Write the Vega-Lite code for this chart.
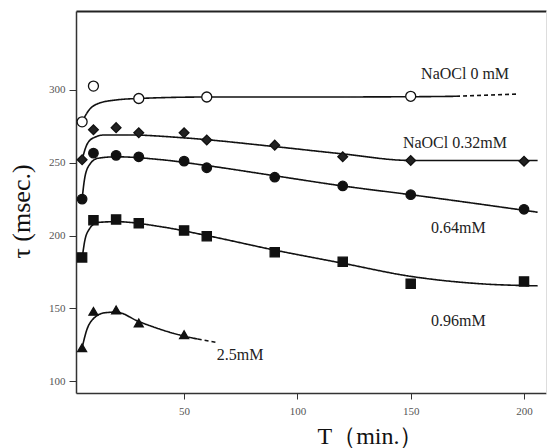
{
  "$schema": "https://vega.github.io/schema/vega-lite/v6.json",
  "width": 470,
  "height": 382,
  "autosize": {"type": "none"},
  "padding": {"left": 76, "top": 11, "right": 3, "bottom": 55},
  "background": "white",
  "config": {
    "view": {"stroke": null},
    "font": "Liberation Serif",
    "axis": {"grid": false, "labelFont": "Liberation Serif", "titleFont": "Liberation Serif"}
  },
  "datasets": {
    "curves": [
      {"series": "0 mM", "part": "fit", "T": 5, "tau": 278},
      {"series": "0 mM", "part": "fit", "T": 8, "tau": 286},
      {"series": "0 mM", "part": "fit", "T": 12, "tau": 290.5},
      {"series": "0 mM", "part": "fit", "T": 20, "tau": 293},
      {"series": "0 mM", "part": "fit", "T": 30, "tau": 294},
      {"series": "0 mM", "part": "fit", "T": 60, "tau": 295},
      {"series": "0 mM", "part": "fit", "T": 100, "tau": 295},
      {"series": "0 mM", "part": "fit", "T": 150, "tau": 295.2},
      {"series": "0 mM", "part": "fit", "T": 170, "tau": 295.5},
      {"series": "0 mM", "part": "extrap", "T": 170, "tau": 295.5},
      {"series": "0 mM", "part": "extrap", "T": 197, "tau": 297},
      {"series": "0.32 mM", "part": "fit", "T": 5, "tau": 252},
      {"series": "0.32 mM", "part": "fit", "T": 7, "tau": 262},
      {"series": "0.32 mM", "part": "fit", "T": 10, "tau": 267},
      {"series": "0.32 mM", "part": "fit", "T": 15, "tau": 269},
      {"series": "0.32 mM", "part": "fit", "T": 25, "tau": 269},
      {"series": "0.32 mM", "part": "fit", "T": 50, "tau": 267},
      {"series": "0.32 mM", "part": "fit", "T": 90, "tau": 261},
      {"series": "0.32 mM", "part": "fit", "T": 120, "tau": 256},
      {"series": "0.32 mM", "part": "fit", "T": 150, "tau": 251.5},
      {"series": "0.32 mM", "part": "fit", "T": 206, "tau": 251.5},
      {"series": "0.64 mM", "part": "fit", "T": 5, "tau": 225},
      {"series": "0.64 mM", "part": "fit", "T": 6, "tau": 238},
      {"series": "0.64 mM", "part": "fit", "T": 8, "tau": 248},
      {"series": "0.64 mM", "part": "fit", "T": 12, "tau": 253},
      {"series": "0.64 mM", "part": "fit", "T": 20, "tau": 254},
      {"series": "0.64 mM", "part": "fit", "T": 40, "tau": 252},
      {"series": "0.64 mM", "part": "fit", "T": 60, "tau": 248},
      {"series": "0.64 mM", "part": "fit", "T": 90, "tau": 241},
      {"series": "0.64 mM", "part": "fit", "T": 120, "tau": 234},
      {"series": "0.64 mM", "part": "fit", "T": 150, "tau": 228},
      {"series": "0.64 mM", "part": "fit", "T": 206, "tau": 216},
      {"series": "0.96 mM", "part": "fit", "T": 5, "tau": 184},
      {"series": "0.96 mM", "part": "fit", "T": 6, "tau": 195},
      {"series": "0.96 mM", "part": "fit", "T": 8, "tau": 204},
      {"series": "0.96 mM", "part": "fit", "T": 12, "tau": 209},
      {"series": "0.96 mM", "part": "fit", "T": 20, "tau": 209.5},
      {"series": "0.96 mM", "part": "fit", "T": 40, "tau": 206},
      {"series": "0.96 mM", "part": "fit", "T": 60, "tau": 200},
      {"series": "0.96 mM", "part": "fit", "T": 90, "tau": 190},
      {"series": "0.96 mM", "part": "fit", "T": 120, "tau": 181},
      {"series": "0.96 mM", "part": "fit", "T": 150, "tau": 172},
      {"series": "0.96 mM", "part": "fit", "T": 180, "tau": 167},
      {"series": "0.96 mM", "part": "fit", "T": 206, "tau": 165.5},
      {"series": "2.5 mM", "part": "fit", "T": 5, "tau": 123},
      {"series": "2.5 mM", "part": "fit", "T": 7, "tau": 135},
      {"series": "2.5 mM", "part": "fit", "T": 10, "tau": 143},
      {"series": "2.5 mM", "part": "fit", "T": 15, "tau": 147},
      {"series": "2.5 mM", "part": "fit", "T": 20, "tau": 147.5},
      {"series": "2.5 mM", "part": "fit", "T": 30, "tau": 141},
      {"series": "2.5 mM", "part": "fit", "T": 50, "tau": 131},
      {"series": "2.5 mM", "part": "fit", "T": 56, "tau": 129},
      {"series": "2.5 mM", "part": "extrap", "T": 56, "tau": 129},
      {"series": "2.5 mM", "part": "extrap", "T": 65, "tau": 126.5}
    ],
    "points": [
      {"series": "0 mM", "T": 5, "tau": 278},
      {"series": "0 mM", "T": 10, "tau": 302.5},
      {"series": "0 mM", "T": 30, "tau": 294},
      {"series": "0 mM", "T": 60, "tau": 295},
      {"series": "0 mM", "T": 150, "tau": 295.5},
      {"series": "0.32 mM", "T": 5, "tau": 252},
      {"series": "0.32 mM", "T": 10, "tau": 272.5},
      {"series": "0.32 mM", "T": 20, "tau": 274},
      {"series": "0.32 mM", "T": 30, "tau": 270.5},
      {"series": "0.32 mM", "T": 50, "tau": 270.5},
      {"series": "0.32 mM", "T": 60, "tau": 265.5},
      {"series": "0.32 mM", "T": 90, "tau": 262},
      {"series": "0.32 mM", "T": 120, "tau": 254},
      {"series": "0.32 mM", "T": 150, "tau": 251.5},
      {"series": "0.32 mM", "T": 200, "tau": 251},
      {"series": "0.64 mM", "T": 5, "tau": 225},
      {"series": "0.64 mM", "T": 10, "tau": 256.5},
      {"series": "0.64 mM", "T": 20, "tau": 255},
      {"series": "0.64 mM", "T": 30, "tau": 254},
      {"series": "0.64 mM", "T": 50, "tau": 251},
      {"series": "0.64 mM", "T": 60, "tau": 246.5},
      {"series": "0.64 mM", "T": 90, "tau": 240},
      {"series": "0.64 mM", "T": 120, "tau": 234},
      {"series": "0.64 mM", "T": 150, "tau": 228},
      {"series": "0.64 mM", "T": 200, "tau": 218},
      {"series": "0.96 mM", "T": 5, "tau": 185},
      {"series": "0.96 mM", "T": 10, "tau": 210.5},
      {"series": "0.96 mM", "T": 20, "tau": 211},
      {"series": "0.96 mM", "T": 30, "tau": 208.5},
      {"series": "0.96 mM", "T": 50, "tau": 203.5},
      {"series": "0.96 mM", "T": 60, "tau": 199.5},
      {"series": "0.96 mM", "T": 90, "tau": 188.5},
      {"series": "0.96 mM", "T": 120, "tau": 182},
      {"series": "0.96 mM", "T": 150, "tau": 167},
      {"series": "0.96 mM", "T": 200, "tau": 168.5},
      {"series": "2.5 mM", "T": 5, "tau": 123},
      {"series": "2.5 mM", "T": 10, "tau": 148},
      {"series": "2.5 mM", "T": 20, "tau": 149},
      {"series": "2.5 mM", "T": 30, "tau": 140},
      {"series": "2.5 mM", "T": 50, "tau": 132}
    ],
    "labels": [
      {"label": "NaOCl 0 mM", "T": 174, "tau": 310.5},
      {"label": "NaOCl 0.32mM", "T": 169.5, "tau": 263.5},
      {"label": "0.64mM", "T": 171, "tau": 205.5},
      {"label": "0.96mM", "T": 171, "tau": 141.5},
      {"label": "2.5mM", "T": 74.7, "tau": 118.2}
    ]
  },
  "layer": [
    {
      "data": {"name": "curves"},
      "mark": {"type": "line", "interpolate": "monotone", "color": "#111", "strokeWidth": 1.6},
      "encoding": {
        "x": {"field": "T", "type": "quantitative", "scale": {"domain": [2.3, 209.7], "nice": false, "zero": false},
          "axis": {"orient": "bottom", "values": [50, 100, 150, 200], "title": "T（min.）", "titleFontSize": 24, "titleFontWeight": "normal", "titleColor": "#111", "titleX": 294, "titlePadding": 8, "labelFontSize": 11, "labelColor": "#555", "labelPadding": 6, "tickSize": 6, "tickColor": "#333", "domainColor": "#333", "domainWidth": 1.5}},
        "y": {"field": "tau", "type": "quantitative", "scale": {"domain": [92, 354], "nice": false, "zero": false},
          "axis": {"orient": "left", "values": [100, 150, 200, 250, 300], "title": "τ (msec.)", "titleFontSize": 26, "titleFontWeight": "normal", "titleColor": "#111", "titleY": 200, "titlePadding": 14, "labelFontSize": 11, "labelColor": "#555", "labelPadding": 4, "tickSize": 7, "tickColor": "#333", "domainColor": "#333", "domainWidth": 1.5}},
        "detail": {"field": "series"},
        "strokeDash": {"field": "part", "type": "nominal", "scale": {"domain": ["fit", "extrap"], "range": [[1, 0], [4, 3]]}, "legend": null}
      }
    },
    {
      "data": {"name": "points"},
      "mark": {"type": "point", "filled": true, "stroke": "#111", "strokeWidth": 1.3, "opacity": 1},
      "encoding": {
        "x": {"field": "T", "type": "quantitative", "axis": {"orient": "top", "labels": false, "ticks": false, "title": null, "domainColor": "#222", "domainWidth": 2}},
        "y": {"field": "tau", "type": "quantitative", "axis": {"orient": "right", "labels": false, "ticks": false, "title": null, "domainColor": "#ddd", "domainWidth": 1}},
        "shape": {"field": "series", "type": "nominal", "scale": {"domain": ["0 mM", "0.32 mM", "0.64 mM", "0.96 mM", "2.5 mM"], "range": ["circle", "diamond", "circle", "square", "triangle-up"]}, "legend": null},
        "fill": {"field": "series", "type": "nominal", "scale": {"domain": ["0 mM", "0.32 mM", "0.64 mM", "0.96 mM", "2.5 mM"], "range": ["white", "#222", "#111", "#111", "#111"]}, "legend": null},
        "size": {"field": "series", "type": "nominal", "scale": {"domain": ["0 mM", "0.32 mM", "0.64 mM", "0.96 mM", "2.5 mM"], "range": [100, 80, 95, 100, 95]}, "legend": null}
      }
    },
    {
      "data": {"name": "labels"},
      "mark": {"type": "text", "font": "Liberation Serif", "fontSize": 16, "color": "#222", "align": "center", "baseline": "middle"},
      "encoding": {
        "x": {"field": "T", "type": "quantitative", "axis": null},
        "y": {"field": "tau", "type": "quantitative", "axis": null},
        "text": {"field": "label"}
      }
    }
  ],
  "resolve": {"axis": {"x": "independent", "y": "independent"}}
}
